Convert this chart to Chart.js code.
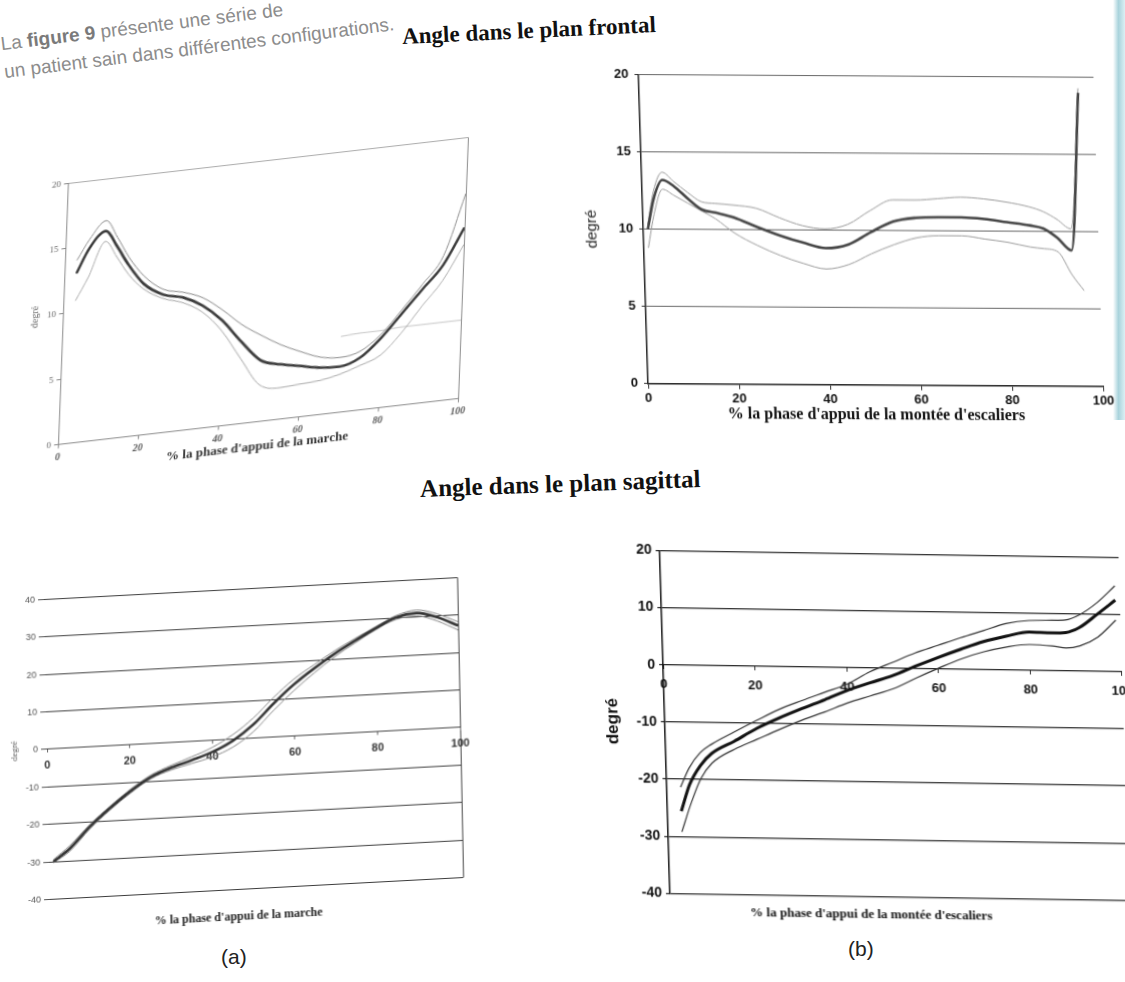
<!DOCTYPE html>
<html lang="fr">
<head>
<meta charset="UTF-8">
<title>Angle dans le plan frontal et sagittal</title>
<script src="https://cdn.jsdelivr.net/npm/chart.js"></script>
<style>
  body {
    margin: 0;
    width: 1125px;
    height: 982px;
    background: #fff;
    position: relative;
    overflow: hidden;
    font-family: "Liberation Sans", Arial, sans-serif;
  }
  .intro {
    position: absolute;
    left: 6px;
    top: 30px;
    color: #8c8c8c;
    font-size: 19px;
    line-height: 28px;
    white-space: nowrap;
    transform: rotate(-7deg);
    transform-origin: 0 100%;
  }
  .intro b { color: #7a7a7a; }
  .titre {
    position: absolute;
    font-family: "Liberation Serif", serif;
    font-weight: bold;
    color: #111;
    white-space: nowrap;
  }
  .lettre {
    position: absolute;
    font-size: 21px;
    color: #222;
  }
  .box { position: absolute; }
  .box canvas { display: block; }
  .bord {
    position: absolute;
    right: 0;
    top: 0;
    width: 12px;
    height: 420px;
    background: linear-gradient(to right, #fff, #a9d3dc 45%, #dcf0f4);
  }
</style>
</head>
<body>

<div class="intro">La <b>figure 9</b> présente une série de<br>un patient sain dans différentes configurations.</div>
<div class="bord"></div>

<div class="titre" style="left:402px; top:18px; font-size:23px; transform:rotate(-2.7deg);">Angle dans le plan frontal</div>
<div class="titre" style="left:420px; top:470px; font-size:25px; transform:rotate(-2deg);">Angle dans le plan sagittal</div>

<div class="box" id="boxA1"><canvas id="frontMarche" width="480" height="330"></canvas></div>
<div class="box" id="boxB1"><canvas id="frontEscalier" width="540" height="380"></canvas></div>
<div class="box" id="boxA2"><canvas id="sagMarche" width="480" height="380"></canvas></div>
<div class="box" id="boxB2"><canvas id="sagEscalier" width="540" height="420"></canvas></div>

<div class="lettre" style="left:221px; top:945px;">(a)</div>
<div class="lettre" style="left:848px; top:937px;">(b)</div>

<script>
// plan frontal, marche
const xFrontMarche = [3, 6, 10, 13, 16, 20, 25, 30, 35, 40, 45, 50, 55, 60, 65, 70, 75, 80, 85, 90, 95, 100];
const frontMarcheMoy = [13.0, 14.8, 16.0, 14.7, 13.2, 11.6, 10.6, 10.2, 9.4, 8.1, 6.3, 4.7, 4.2, 3.9, 3.6, 3.5, 4.0, 5.3, 7.0, 8.7, 10.4, 13.1];
const frontMarcheSup = [14.0, 15.5, 16.8, 15.4, 13.8, 12.2, 11.0, 10.6, 10.0, 8.9, 7.6, 6.6, 5.7, 5.0, 4.4, 4.2, 4.5, 5.6, 7.3, 9.1, 11.1, 15.7];
const frontMarcheInf = [10.9, 12.6, 15.2, 13.9, 12.5, 11.2, 10.3, 9.8, 8.9, 7.3, 5.0, 2.8, 2.4, 2.5, 2.6, 2.9, 3.4, 4.0, 5.5, 7.4, 9.2, 11.8];
const xFrontMarcheTrait = [70, 75, 80, 85, 90, 95, 100];
const frontMarcheTrait = [5.8, 5.9, 5.9, 6.0, 6.0, 6.0, 6.0];

// plan frontal, montée d'escaliers
const xFrontEsc = [1, 2.5, 4.5, 7, 10, 13, 16, 20, 25, 30, 35, 40, 45, 50, 55, 60, 65, 70, 75, 80, 85, 88, 91, 94, 96.5];
const frontEscMoy = [10.0, 12.0, 13.2, 12.8, 12.0, 11.3, 11.1, 10.8, 10.2, 9.65, 9.2, 8.85, 9.1, 9.9, 10.6, 10.85, 10.9, 10.9, 10.8, 10.6, 10.4, 10.2, 9.6, 8.8, 19.0];
const frontEscSup = [10.3, 12.5, 13.7, 13.1, 12.4, 11.8, 11.7, 11.6, 11.4, 10.8, 10.3, 10.1, 10.4, 11.3, 12.0, 12.0, 12.1, 12.2, 12.1, 11.9, 11.6, 11.3, 10.8, 10.2, 19.3];
const frontEscInf = [8.8, 11.0, 12.6, 12.2, 11.7, 11.2, 10.7, 9.8, 9.0, 8.35, 7.85, 7.5, 7.8, 8.5, 9.1, 9.55, 9.7, 9.7, 9.5, 9.3, 9.0, 8.9, 8.7, 7.2, 6.2];

// plan sagittal, marche
const xSagMarche = [1, 5, 10, 15, 20, 25, 30, 35, 40, 45, 50, 55, 60, 65, 70, 75, 80, 85, 90, 95, 100];
const sagMarcheMoy = [-30.0, -26.8, -21.2, -16.5, -12.3, -8.8, -6.6, -4.9, -3.0, -0.3, 3.7, 9.0, 13.8, 17.8, 21.4, 24.6, 27.6, 30.2, 31.1, 29.7, 27.2];
const sagMarcheSup = [-29.5, -26.0, -20.6, -16.0, -11.8, -8.3, -6.0, -4.0, -1.8, 1.3, 5.4, 10.6, 15.2, 18.8, 22.2, 25.2, 28.0, 30.7, 31.9, 30.6, 28.2];
const sagMarcheInf = [-30.3, -27.5, -21.8, -17.0, -12.8, -9.3, -7.2, -5.8, -4.3, -2.0, 1.8, 7.2, 12.2, 16.6, 20.6, 24.0, 27.2, 29.7, 30.3, 28.7, 26.0];

// plan sagittal, montée d'escaliers
const xSagEsc = [3, 5, 7.5, 10, 15, 20, 25, 30, 35, 40, 45, 50, 55, 60, 65, 70, 75, 80, 85, 88, 91, 95, 99];
const sagEscMoy = [-25.6, -20.9, -17.5, -15.4, -13.2, -10.9, -9.0, -7.3, -5.7, -4.0, -2.6, -1.3, 0.4, 2.0, 3.5, 4.9, 5.9, 6.7, 6.6, 6.7, 7.6, 10.0, 12.5];
const sagEscSup = [-21.4, -18.0, -15.3, -13.8, -11.6, -9.5, -7.5, -5.9, -4.4, -2.9, -0.7, 1.0, 2.7, 4.1, 5.5, 6.8, 8.1, 8.7, 8.8, 8.9, 9.8, 12.0, 15.0];
const sagEscInf = [-29.2, -24.6, -19.8, -17.1, -14.6, -12.8, -11.0, -9.3, -7.8, -6.2, -4.9, -3.6, -1.7, 0.1, 1.8, 3.1, 4.0, 4.5, 4.3, 4.0, 4.4, 6.0, 9.0];

const xTicksPas = 20;
const titreMarche = "% la phase d'appui de la marche";
const titreEscalier = "% la phase d'appui de la montée d'escaliers";

const transparent = 'rgba(0,0,0,0)';

function serie(xs, ys, couleur, epaisseur) {
    return {
        data: xs.map((x, i) => ({ x: x, y: ys[i] })),
        borderColor: couleur,
        borderWidth: epaisseur,
        pointRadius: 0,
        fill: false,
        cubicInterpolationMode: 'monotone'
    };
}

// taille de la zone de tracé + inclinaison de la photo
function placer(chart, box, p) {
    let ca = chart.chartArea;
    chart.resize(chart.width + p.w - (ca.right - ca.left), chart.height + p.h - (ca.bottom - ca.top));
    chart.update('none');
    ca = chart.chartArea;
    const oy = chart.scales.y.getPixelForValue(p.v0);
    box.style.left = (p.x0 - ca.left) + 'px';
    box.style.top = (p.y0 - oy) + 'px';
    box.style.transformOrigin = ca.left + 'px ' + oy + 'px';
    box.style.transform = 'matrix(1,' + p.b + ',' + p.c + ',1,0,0)';
}

function tracer(idCanvas, idBox, datasets, scales, titre, place) {
    const chart = new Chart(document.getElementById(idCanvas), {
        type: 'line',
        data: { datasets: datasets },
        options: {
            responsive: false,
            maintainAspectRatio: false,
            animation: false,
            events: [],
            layout: { padding: { top: 8, right: 14, bottom: 4, left: 0 } },
            plugins: {
                legend: { display: false },
                tooltip: { enabled: false },
                title: titre || { display: false }
            },
            scales: scales
        }
    });
    placer(chart, document.getElementById(idBox), place);
    return chart;
}

// (a) haut : plan frontal, marche
tracer('frontMarche', 'boxA1', [
    serie(xFrontMarche, frontMarcheMoy, '#3a3a3a', 2.6),
    serie(xFrontMarche, frontMarcheSup, '#8a8a8a', 1),
    serie(xFrontMarche, frontMarcheInf, '#a8a8a8', 1),
    serie(xFrontMarcheTrait, frontMarcheTrait, '#c4c4c4', 1)
], {
    x: {
        type: 'linear', min: 0, max: 100,
        ticks: { stepSize: xTicksPas, color: '#555', maxRotation: 0, padding: 3,
                 font: { family: 'Liberation Serif', size: 10, weight: 'bold', style: 'italic' } },
        grid: { color: c => c.tick && c.tick.value === 100 ? '#8a8a8a' : transparent, tickColor: '#888', tickLength: 4 },
        border: { color: '#888' },
        title: { display: true, text: titreMarche, color: '#333', padding: { top: 0, bottom: 1 },
                 font: { family: 'Liberation Serif', size: 13, weight: 'bold' } },
        afterFit: s => { s.height = 34; }
    },
    y: {
        min: 0, max: 20,
        ticks: { stepSize: 5, color: '#666', padding: 3, font: { family: 'Liberation Serif', size: 9 } },
        grid: { color: c => c.tick && c.tick.value === 20 ? '#aaa' : transparent, tickColor: '#888', tickLength: 4 },
        border: { color: '#888' },
        title: { display: true, text: 'degré', color: '#666', padding: { top: 0, bottom: 2 },
                 font: { family: 'Liberation Serif', size: 10 } },
        afterFit: s => { s.width = 34; }
    }
}, null, { x0: 58, y0: 444, v0: 0, w: 400, h: 261, b: -0.115, c: -0.038 });

// (b) haut : plan frontal, escaliers
tracer('frontEscalier', 'boxB1', [
    serie(xFrontEsc, frontEscMoy, '#444', 2.6),
    serie(xFrontEsc, frontEscSup, '#999', 1),
    serie(xFrontEsc, frontEscInf, '#999', 1)
], {
    x: {
        type: 'linear', min: 0, max: 100,
        ticks: { stepSize: xTicksPas, color: '#111', maxRotation: 0, padding: 2,
                 font: { family: 'Liberation Sans', size: 13, weight: 'bold' } },
        grid: { drawOnChartArea: false, color: '#333', tickLength: 5 },
        border: { color: '#222', width: 1.5 },
        title: { display: true, text: titreEscalier, color: '#111', padding: { top: 0, bottom: 2 },
                 font: { family: 'Liberation Serif', size: 16, weight: 'bold' } },
        afterFit: s => { s.height = 42; }
    },
    y: {
        min: 0, max: 20,
        ticks: { stepSize: 5, color: '#111', padding: 6, font: { family: 'Liberation Sans', size: 13, weight: 'bold' } },
        grid: { color: '#666', tickLength: 4, tickColor: '#333' },
        border: { color: '#222', width: 1.5 },
        title: { display: true, text: 'degré', color: '#222', padding: { top: 0, bottom: 2 },
                 font: { family: 'Liberation Sans', size: 15 } },
        afterFit: s => { s.width = 60; }
    }
}, null, { x0: 648, y0: 383, v0: 0, w: 455, h: 308, b: 0.006, c: 0.031 });

// (a) bas : plan sagittal, marche
tracer('sagMarche', 'boxA2', [
    serie(xSagMarche, sagMarcheMoy, '#333', 2.6),
    serie(xSagMarche, sagMarcheSup, '#888', 1),
    serie(xSagMarche, sagMarcheInf, '#888', 1)
], {
    x: {
        type: 'linear', min: 0, max: 100, position: { y: 0 },
        ticks: { stepSize: xTicksPas, color: '#333', maxRotation: 0, padding: 6,
                 font: { family: 'Liberation Sans', size: 11, weight: 'bold' } },
        grid: { color: c => c.tick && c.tick.value === 100 ? '#444' : transparent, tickColor: '#666', tickLength: 3 },
        border: { color: '#444' }
    },
    y: {
        min: -40, max: 40,
        ticks: { stepSize: 10, color: '#555', padding: 3, font: { family: 'Liberation Sans', size: 9 } },
        grid: { color: '#3c3c3c', tickColor: '#555', tickLength: 6 },
        border: { display: false },
        title: { display: true, text: 'degré', color: '#555', padding: { top: 0, bottom: 2 },
                 font: { family: 'Liberation Serif', size: 9 } },
        afterFit: s => { s.width = 38; }
    }
}, {
    display: true, position: 'bottom', text: titreMarche, color: '#222',
    font: { family: 'Liberation Serif', size: 12, weight: 'bold' }, padding: { top: 20, bottom: 4 }
}, { x0: 47, y0: 749, v0: 0, w: 413, h: 299, b: -0.053, c: 0.02 });

// (b) bas : plan sagittal, escaliers
tracer('sagEscalier', 'boxB2', [
    serie(xSagEsc, sagEscMoy, '#111', 3),
    serie(xSagEsc, sagEscSup, '#333', 1.2),
    serie(xSagEsc, sagEscInf, '#333', 1.2)
], {
    x: {
        type: 'linear', min: 0, max: 100, position: { y: 0 },
        ticks: { stepSize: xTicksPas, color: '#111', maxRotation: 0, padding: 8,
                 font: { family: 'Liberation Sans', size: 13, weight: 'bold' } },
        grid: { drawOnChartArea: false, color: '#333', tickLength: 4 },
        border: { color: '#222' }
    },
    y: {
        min: -40, max: 20,
        ticks: { stepSize: 10, color: '#111', padding: 4, font: { family: 'Liberation Sans', size: 14, weight: 'bold' } },
        grid: { color: '#2a2a2a', lineWidth: 1.2, tickColor: '#222', tickLength: 4 },
        border: { color: '#111', width: 1.5 },
        title: { display: true, text: 'degré', color: '#111', padding: { top: 0, bottom: 2 },
                 font: { family: 'Liberation Sans', size: 17, weight: 'bold' } },
        afterFit: s => { s.width = 62; }
    }
}, {
    display: true, position: 'bottom', text: titreEscalier, color: '#111',
    font: { family: 'Liberation Serif', size: 13, weight: 'bold' }, padding: { top: 10, bottom: 4 }
}, { x0: 663, y0: 665, v0: 0, w: 458, h: 343, b: 0.015, c: 0.03 });
</script>
</body>
</html>
